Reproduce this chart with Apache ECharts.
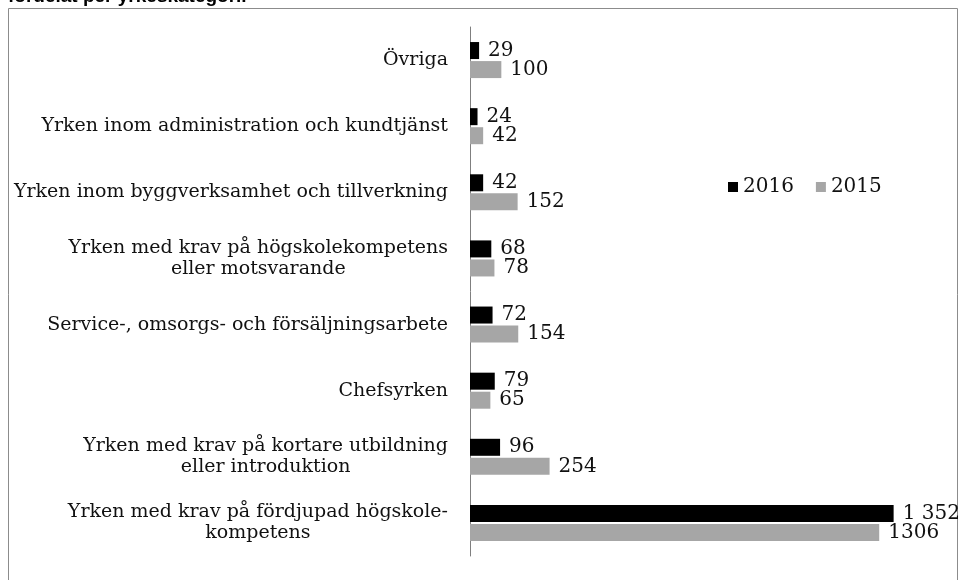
<!DOCTYPE html>
<html>
<head>
<meta charset="utf-8">
<script src="https://cdn.jsdelivr.net/npm/echarts@6/dist/echarts.min.js"></script>
<style>
    html, body { margin: 0; padding: 0; background: #fff; }
    .box { width: 959px; height: 580px; }
</style>
</head>
<body>
<div class="box"></div>
<script>
var categories = [
    'Övriga',
    'Yrken inom administration och kundtjänst',
    'Yrken inom byggverksamhet och tillverkning',
    'Yrken med krav på högskolekompetens\neller motsvarande',
    'Service-, omsorgs- och försäljningsarbete',
    'Chefsyrken',
    'Yrken med krav på kortare utbildning\neller introduktion',
    'Yrken med krav på fördjupad högskole-\nkompetens'
]
var values2016 = [29, 24, 42, 68, 72, 79, 96, 1352]
var values2015 = [100, 42, 152, 78, 154, 65, 254, 1306]

var serif = 'DejaVu Serif'

//*****liggande stapeldiagram
function bar() {
    var myChart = echarts.init(document.querySelector('.box'))
    myChart.setOption({
        animation: false,
        graphic: [{
            type: 'rect',
            shape: { x: 8.5, y: 8.5, width: 949, height: 600 },
            style: { fill: 'none', stroke: '#8c8c8c', lineWidth: 1 }
        }, {
            type: 'text',
            left: 8,
            top: -13,
            style: {
                text: 'fördelat per yrkeskategori.',
                font: 'bold 19px "Liberation Sans"',
                fill: '#000'
            }
        }],
        legend: {
            left: 723,
            top: 172,
            icon: 'rect',
            itemWidth: 10,
            itemHeight: 10,
            itemGap: 22,
            textStyle: { fontFamily: serif, fontSize: 20, color: '#111' },
            data: ['2016', '2015']
        },
        grid: { left: 470, right: 19, top: 27, bottom: 24 },
        xAxis: {
            type: 'value',
            min: 0,
            max: 1500,
            show: false
        },
        yAxis: {
            type: 'category',
            inverse: true,
            data: categories,
            axisLine: { lineStyle: { color: '#7f7f7f', width: 1 } },
            axisTick: { show: false },
            axisLabel: {
                margin: 22,
                formatter: function (v) {
                    return v.split('\n').map(function (s) { return '{c|' + s + '}' }).join('\n')
                },
                rich: {
                    c: { align: 'center', fontFamily: serif, fontSize: 19, lineHeight: 21, color: '#111' }
                }
            }
        },
        series: [{
            name: '2016',
            type: 'bar',
            barWidth: 17,
            barGap: '12%',
            data: values2016,
            itemStyle: { color: '#000' },
            label: {
                show: true,
                position: 'right',
                distance: 9,
                fontFamily: serif,
                fontSize: 20,
                color: '#111',
                formatter: function (p) {
                    return p.value >= 1000 ? String(p.value).replace(/(\d)(\d{3})$/, '$1 $2') : p.value
                }
            }
        }, {
            name: '2015',
            type: 'bar',
            barWidth: 17,
            data: values2015,
            itemStyle: { color: '#a6a6a6' },
            label: {
                show: true,
                position: 'right',
                distance: 9,
                fontFamily: serif,
                fontSize: 20,
                color: '#111'
            }
        }]
    })
}
bar()
</script>
</body>
</html>
